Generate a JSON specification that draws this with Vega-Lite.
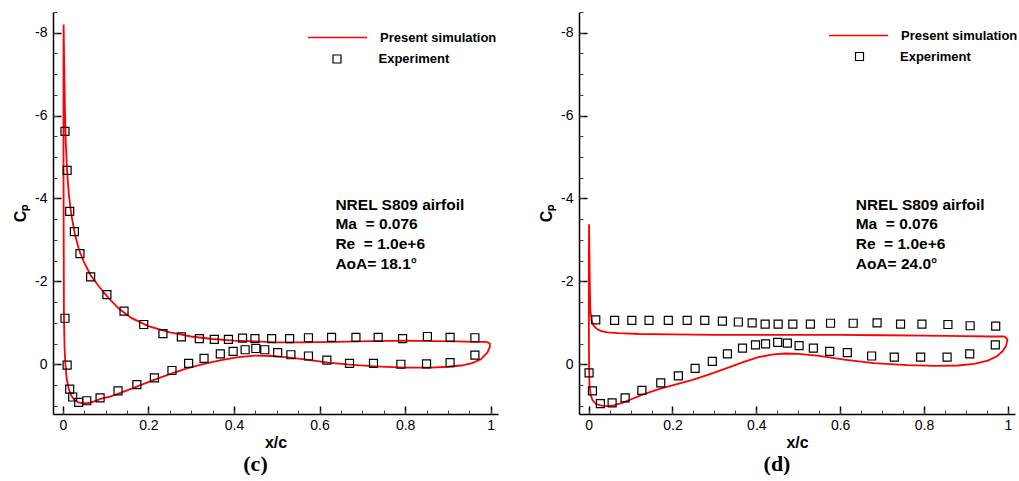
{
  "$schema": "https://vega.github.io/schema/vega-lite/v6.json",
  "background": "white",
  "padding": {"left": 12, "top": 5, "right": 0, "bottom": 0},
  "spacing": 40,
  "config": {
    "view": {"stroke": null},
    "font": "Liberation Sans",
    "axis": {"labelFont": "Liberation Sans", "titleFont": "Liberation Sans", "labelColor": "black", "titleColor": "black", "domainColor": "black", "tickColor": "black", "grid": false},
    "legend": {"labelFont": "Liberation Sans", "labelColor": "black", "labelFontWeight": "bold", "labelFontSize": 13, "title": null, "orient": "none", "padding": 0}
  },
  "resolve": {"scale": {"color": "independent", "shape": "independent"}, "legend": {"color": "independent", "shape": "independent"}},
  "datasets": {
    "simC": [
      {"i": 1, "x": 0.99, "cp": -0.54, "series": "Present simulation"},
      {"i": 2, "x": 0.96, "cp": -0.54, "series": "Present simulation"},
      {"i": 3, "x": 0.92, "cp": -0.55, "series": "Present simulation"},
      {"i": 4, "x": 0.86, "cp": -0.56, "series": "Present simulation"},
      {"i": 5, "x": 0.8, "cp": -0.57, "series": "Present simulation"},
      {"i": 6, "x": 0.72, "cp": -0.56, "series": "Present simulation"},
      {"i": 7, "x": 0.64, "cp": -0.54, "series": "Present simulation"},
      {"i": 8, "x": 0.56, "cp": -0.53, "series": "Present simulation"},
      {"i": 9, "x": 0.5, "cp": -0.53, "series": "Present simulation"},
      {"i": 10, "x": 0.45, "cp": -0.55, "series": "Present simulation"},
      {"i": 11, "x": 0.4, "cp": -0.57, "series": "Present simulation"},
      {"i": 12, "x": 0.35, "cp": -0.61, "series": "Present simulation"},
      {"i": 13, "x": 0.3, "cp": -0.67, "series": "Present simulation"},
      {"i": 14, "x": 0.25, "cp": -0.77, "series": "Present simulation"},
      {"i": 15, "x": 0.2, "cp": -0.92, "series": "Present simulation"},
      {"i": 16, "x": 0.16, "cp": -1.12, "series": "Present simulation"},
      {"i": 17, "x": 0.13, "cp": -1.35, "series": "Present simulation"},
      {"i": 18, "x": 0.105, "cp": -1.62, "series": "Present simulation"},
      {"i": 19, "x": 0.085, "cp": -1.87, "series": "Present simulation"},
      {"i": 20, "x": 0.065, "cp": -2.15, "series": "Present simulation"},
      {"i": 21, "x": 0.05, "cp": -2.45, "series": "Present simulation"},
      {"i": 22, "x": 0.038, "cp": -2.75, "series": "Present simulation"},
      {"i": 23, "x": 0.028, "cp": -3.15, "series": "Present simulation"},
      {"i": 24, "x": 0.02, "cp": -3.6, "series": "Present simulation"},
      {"i": 25, "x": 0.014, "cp": -4.1, "series": "Present simulation"},
      {"i": 26, "x": 0.01, "cp": -4.65, "series": "Present simulation"},
      {"i": 27, "x": 0.007, "cp": -5.3, "series": "Present simulation"},
      {"i": 28, "x": 0.005, "cp": -6.1, "series": "Present simulation"},
      {"i": 29, "x": 0.0035, "cp": -7.0, "series": "Present simulation"},
      {"i": 30, "x": 0.0025, "cp": -7.7, "series": "Present simulation"},
      {"i": 31, "x": 0.0018, "cp": -8.2, "series": "Present simulation"},
      {"i": 32, "x": 0.0015, "cp": -7.0, "series": "Present simulation"},
      {"i": 33, "x": 0.0015, "cp": -5.0, "series": "Present simulation"},
      {"i": 34, "x": 0.002, "cp": -3.0, "series": "Present simulation"},
      {"i": 35, "x": 0.0025, "cp": -1.2, "series": "Present simulation"},
      {"i": 36, "x": 0.004, "cp": -0.4, "series": "Present simulation"},
      {"i": 37, "x": 0.006, "cp": 0.0, "series": "Present simulation"},
      {"i": 38, "x": 0.009, "cp": 0.35, "series": "Present simulation"},
      {"i": 39, "x": 0.014, "cp": 0.6, "series": "Present simulation"},
      {"i": 40, "x": 0.02, "cp": 0.76, "series": "Present simulation"},
      {"i": 41, "x": 0.027, "cp": 0.86, "series": "Present simulation"},
      {"i": 42, "x": 0.036, "cp": 0.92, "series": "Present simulation"},
      {"i": 43, "x": 0.046, "cp": 0.94, "series": "Present simulation"},
      {"i": 44, "x": 0.058, "cp": 0.94, "series": "Present simulation"},
      {"i": 45, "x": 0.072, "cp": 0.9, "series": "Present simulation"},
      {"i": 46, "x": 0.09, "cp": 0.83, "series": "Present simulation"},
      {"i": 47, "x": 0.11, "cp": 0.78, "series": "Present simulation"},
      {"i": 48, "x": 0.13, "cp": 0.71, "series": "Present simulation"},
      {"i": 49, "x": 0.17, "cp": 0.55, "series": "Present simulation"},
      {"i": 50, "x": 0.21, "cp": 0.39, "series": "Present simulation"},
      {"i": 51, "x": 0.25, "cp": 0.24, "series": "Present simulation"},
      {"i": 52, "x": 0.29, "cp": 0.1, "series": "Present simulation"},
      {"i": 53, "x": 0.33, "cp": -0.01, "series": "Present simulation"},
      {"i": 54, "x": 0.37, "cp": -0.1, "series": "Present simulation"},
      {"i": 55, "x": 0.41, "cp": -0.17, "series": "Present simulation"},
      {"i": 56, "x": 0.45, "cp": -0.21, "series": "Present simulation"},
      {"i": 57, "x": 0.49, "cp": -0.2, "series": "Present simulation"},
      {"i": 58, "x": 0.53, "cp": -0.16, "series": "Present simulation"},
      {"i": 59, "x": 0.57, "cp": -0.11, "series": "Present simulation"},
      {"i": 60, "x": 0.62, "cp": -0.04, "series": "Present simulation"},
      {"i": 61, "x": 0.67, "cp": 0.01, "series": "Present simulation"},
      {"i": 62, "x": 0.73, "cp": 0.05, "series": "Present simulation"},
      {"i": 63, "x": 0.8, "cp": 0.08, "series": "Present simulation"},
      {"i": 64, "x": 0.86, "cp": 0.08, "series": "Present simulation"},
      {"i": 65, "x": 0.9, "cp": 0.06, "series": "Present simulation"},
      {"i": 66, "x": 0.93, "cp": 0.03, "series": "Present simulation"},
      {"i": 67, "x": 0.955, "cp": -0.02, "series": "Present simulation"},
      {"i": 68, "x": 0.977, "cp": -0.12, "series": "Present simulation"},
      {"i": 69, "x": 0.992, "cp": -0.28, "series": "Present simulation"},
      {"i": 70, "x": 0.998, "cp": -0.42, "series": "Present simulation"},
      {"i": 71, "x": 0.998, "cp": -0.5, "series": "Present simulation"},
      {"i": 72, "x": 0.99, "cp": -0.54, "series": "Present simulation"}
    ],
    "expC": [
      {"x": 0.005, "cp": -5.62, "series": "Experiment"},
      {"x": 0.01, "cp": -4.68, "series": "Experiment"},
      {"x": 0.016, "cp": -3.69, "series": "Experiment"},
      {"x": 0.027, "cp": -3.2, "series": "Experiment"},
      {"x": 0.04, "cp": -2.67, "series": "Experiment"},
      {"x": 0.065, "cp": -2.11, "series": "Experiment"},
      {"x": 0.103, "cp": -1.68, "series": "Experiment"},
      {"x": 0.143, "cp": -1.28, "series": "Experiment"},
      {"x": 0.189, "cp": -0.96, "series": "Experiment"},
      {"x": 0.234, "cp": -0.74, "series": "Experiment"},
      {"x": 0.277, "cp": -0.66, "series": "Experiment"},
      {"x": 0.319, "cp": -0.62, "series": "Experiment"},
      {"x": 0.354, "cp": -0.6, "series": "Experiment"},
      {"x": 0.387, "cp": -0.6, "series": "Experiment"},
      {"x": 0.42, "cp": -0.63, "series": "Experiment"},
      {"x": 0.449, "cp": -0.62, "series": "Experiment"},
      {"x": 0.488, "cp": -0.62, "series": "Experiment"},
      {"x": 0.53, "cp": -0.62, "series": "Experiment"},
      {"x": 0.574, "cp": -0.64, "series": "Experiment"},
      {"x": 0.628, "cp": -0.65, "series": "Experiment"},
      {"x": 0.685, "cp": -0.65, "series": "Experiment"},
      {"x": 0.737, "cp": -0.65, "series": "Experiment"},
      {"x": 0.794, "cp": -0.62, "series": "Experiment"},
      {"x": 0.852, "cp": -0.67, "series": "Experiment"},
      {"x": 0.905, "cp": -0.65, "series": "Experiment"},
      {"x": 0.963, "cp": -0.64, "series": "Experiment"},
      {"x": 0.005, "cp": -1.11, "series": "Experiment"},
      {"x": 0.01, "cp": 0.02, "series": "Experiment"},
      {"x": 0.016, "cp": 0.6, "series": "Experiment"},
      {"x": 0.023, "cp": 0.79, "series": "Experiment"},
      {"x": 0.037, "cp": 0.92, "series": "Experiment"},
      {"x": 0.056, "cp": 0.88, "series": "Experiment"},
      {"x": 0.087, "cp": 0.81, "series": "Experiment"},
      {"x": 0.129, "cp": 0.64, "series": "Experiment"},
      {"x": 0.173, "cp": 0.49, "series": "Experiment"},
      {"x": 0.214, "cp": 0.33, "series": "Experiment"},
      {"x": 0.255, "cp": 0.15, "series": "Experiment"},
      {"x": 0.294, "cp": -0.02, "series": "Experiment"},
      {"x": 0.33, "cp": -0.14, "series": "Experiment"},
      {"x": 0.368, "cp": -0.25, "series": "Experiment"},
      {"x": 0.398, "cp": -0.31, "series": "Experiment"},
      {"x": 0.426, "cp": -0.35, "series": "Experiment"},
      {"x": 0.451, "cp": -0.38, "series": "Experiment"},
      {"x": 0.472, "cp": -0.35, "series": "Experiment"},
      {"x": 0.502, "cp": -0.28, "series": "Experiment"},
      {"x": 0.533, "cp": -0.23, "series": "Experiment"},
      {"x": 0.574, "cp": -0.2, "series": "Experiment"},
      {"x": 0.617, "cp": -0.1, "series": "Experiment"},
      {"x": 0.67, "cp": -0.02, "series": "Experiment"},
      {"x": 0.726, "cp": -0.02, "series": "Experiment"},
      {"x": 0.79, "cp": 0.0, "series": "Experiment"},
      {"x": 0.85, "cp": -0.01, "series": "Experiment"},
      {"x": 0.905, "cp": -0.04, "series": "Experiment"},
      {"x": 0.963, "cp": -0.22, "series": "Experiment"}
    ],
    "simD": [
      {"i": 1, "x": 0.992, "cp": -0.67, "series": "Present simulation"},
      {"i": 2, "x": 0.96, "cp": -0.67, "series": "Present simulation"},
      {"i": 3, "x": 0.9, "cp": -0.68, "series": "Present simulation"},
      {"i": 4, "x": 0.8, "cp": -0.69, "series": "Present simulation"},
      {"i": 5, "x": 0.7, "cp": -0.7, "series": "Present simulation"},
      {"i": 6, "x": 0.6, "cp": -0.71, "series": "Present simulation"},
      {"i": 7, "x": 0.5, "cp": -0.71, "series": "Present simulation"},
      {"i": 8, "x": 0.4, "cp": -0.71, "series": "Present simulation"},
      {"i": 9, "x": 0.3, "cp": -0.71, "series": "Present simulation"},
      {"i": 10, "x": 0.2, "cp": -0.72, "series": "Present simulation"},
      {"i": 11, "x": 0.12, "cp": -0.73, "series": "Present simulation"},
      {"i": 12, "x": 0.07, "cp": -0.75, "series": "Present simulation"},
      {"i": 13, "x": 0.045, "cp": -0.77, "series": "Present simulation"},
      {"i": 14, "x": 0.03, "cp": -0.8, "series": "Present simulation"},
      {"i": 15, "x": 0.02, "cp": -0.85, "series": "Present simulation"},
      {"i": 16, "x": 0.012, "cp": -0.93, "series": "Present simulation"},
      {"i": 17, "x": 0.007, "cp": -1.05, "series": "Present simulation"},
      {"i": 18, "x": 0.004, "cp": -1.3, "series": "Present simulation"},
      {"i": 19, "x": 0.003, "cp": -1.8, "series": "Present simulation"},
      {"i": 20, "x": 0.002, "cp": -2.6, "series": "Present simulation"},
      {"i": 21, "x": 0.001, "cp": -3.38, "series": "Present simulation"},
      {"i": 22, "x": 0.0005, "cp": -2.5, "series": "Present simulation"},
      {"i": 23, "x": 0.0005, "cp": -1.0, "series": "Present simulation"},
      {"i": 24, "x": 0.001, "cp": 0.0, "series": "Present simulation"},
      {"i": 25, "x": 0.002, "cp": 0.5, "series": "Present simulation"},
      {"i": 26, "x": 0.005, "cp": 0.75, "series": "Present simulation"},
      {"i": 27, "x": 0.01, "cp": 0.88, "series": "Present simulation"},
      {"i": 28, "x": 0.018, "cp": 0.96, "series": "Present simulation"},
      {"i": 29, "x": 0.03, "cp": 1.0, "series": "Present simulation"},
      {"i": 30, "x": 0.045, "cp": 1.01, "series": "Present simulation"},
      {"i": 31, "x": 0.06, "cp": 0.99, "series": "Present simulation"},
      {"i": 32, "x": 0.08, "cp": 0.93, "series": "Present simulation"},
      {"i": 33, "x": 0.1, "cp": 0.85, "series": "Present simulation"},
      {"i": 34, "x": 0.127, "cp": 0.74, "series": "Present simulation"},
      {"i": 35, "x": 0.167, "cp": 0.6, "series": "Present simulation"},
      {"i": 36, "x": 0.206, "cp": 0.49, "series": "Present simulation"},
      {"i": 37, "x": 0.246, "cp": 0.38, "series": "Present simulation"},
      {"i": 38, "x": 0.286, "cp": 0.25, "series": "Present simulation"},
      {"i": 39, "x": 0.325, "cp": 0.11, "series": "Present simulation"},
      {"i": 40, "x": 0.365, "cp": -0.04, "series": "Present simulation"},
      {"i": 41, "x": 0.405, "cp": -0.17, "series": "Present simulation"},
      {"i": 42, "x": 0.44, "cp": -0.24, "series": "Present simulation"},
      {"i": 43, "x": 0.47, "cp": -0.26, "series": "Present simulation"},
      {"i": 44, "x": 0.5, "cp": -0.25, "series": "Present simulation"},
      {"i": 45, "x": 0.55, "cp": -0.2, "series": "Present simulation"},
      {"i": 46, "x": 0.61, "cp": -0.11, "series": "Present simulation"},
      {"i": 47, "x": 0.68, "cp": -0.03, "series": "Present simulation"},
      {"i": 48, "x": 0.76, "cp": 0.02, "series": "Present simulation"},
      {"i": 49, "x": 0.83, "cp": 0.04, "series": "Present simulation"},
      {"i": 50, "x": 0.88, "cp": 0.03, "series": "Present simulation"},
      {"i": 51, "x": 0.92, "cp": -0.01, "series": "Present simulation"},
      {"i": 52, "x": 0.952, "cp": -0.09, "series": "Present simulation"},
      {"i": 53, "x": 0.975, "cp": -0.2, "series": "Present simulation"},
      {"i": 54, "x": 0.988, "cp": -0.32, "series": "Present simulation"},
      {"i": 55, "x": 0.996, "cp": -0.45, "series": "Present simulation"},
      {"i": 56, "x": 0.999, "cp": -0.6, "series": "Present simulation"},
      {"i": 57, "x": 0.992, "cp": -0.67, "series": "Present simulation"}
    ],
    "expD": [
      {"x": 0.017, "cp": -1.07, "series": "Experiment"},
      {"x": 0.062, "cp": -1.06, "series": "Experiment"},
      {"x": 0.103, "cp": -1.06, "series": "Experiment"},
      {"x": 0.144, "cp": -1.06, "series": "Experiment"},
      {"x": 0.19, "cp": -1.06, "series": "Experiment"},
      {"x": 0.235, "cp": -1.06, "series": "Experiment"},
      {"x": 0.277, "cp": -1.06, "series": "Experiment"},
      {"x": 0.319, "cp": -1.04, "series": "Experiment"},
      {"x": 0.357, "cp": -1.02, "series": "Experiment"},
      {"x": 0.39, "cp": -1.0, "series": "Experiment"},
      {"x": 0.421, "cp": -0.97, "series": "Experiment"},
      {"x": 0.452, "cp": -0.97, "series": "Experiment"},
      {"x": 0.487, "cp": -0.97, "series": "Experiment"},
      {"x": 0.529, "cp": -0.97, "series": "Experiment"},
      {"x": 0.577, "cp": -0.99, "series": "Experiment"},
      {"x": 0.631, "cp": -0.99, "series": "Experiment"},
      {"x": 0.688, "cp": -1.0, "series": "Experiment"},
      {"x": 0.744, "cp": -0.97, "series": "Experiment"},
      {"x": 0.795, "cp": -0.97, "series": "Experiment"},
      {"x": 0.857, "cp": -0.96, "series": "Experiment"},
      {"x": 0.91, "cp": -0.93, "series": "Experiment"},
      {"x": 0.971, "cp": -0.92, "series": "Experiment"},
      {"x": 0.001, "cp": 0.21, "series": "Experiment"},
      {"x": 0.009, "cp": 0.64, "series": "Experiment"},
      {"x": 0.028, "cp": 0.95, "series": "Experiment"},
      {"x": 0.056, "cp": 0.93, "series": "Experiment"},
      {"x": 0.087, "cp": 0.81, "series": "Experiment"},
      {"x": 0.127, "cp": 0.63, "series": "Experiment"},
      {"x": 0.172, "cp": 0.45, "series": "Experiment"},
      {"x": 0.214, "cp": 0.28, "series": "Experiment"},
      {"x": 0.254, "cp": 0.1, "series": "Experiment"},
      {"x": 0.295, "cp": -0.07, "series": "Experiment"},
      {"x": 0.331, "cp": -0.25, "series": "Experiment"},
      {"x": 0.367, "cp": -0.39, "series": "Experiment"},
      {"x": 0.398, "cp": -0.47, "series": "Experiment"},
      {"x": 0.422, "cp": -0.49, "series": "Experiment"},
      {"x": 0.451, "cp": -0.53, "series": "Experiment"},
      {"x": 0.474, "cp": -0.51, "series": "Experiment"},
      {"x": 0.502, "cp": -0.45, "series": "Experiment"},
      {"x": 0.536, "cp": -0.39, "series": "Experiment"},
      {"x": 0.575, "cp": -0.31, "series": "Experiment"},
      {"x": 0.617, "cp": -0.28, "series": "Experiment"},
      {"x": 0.675, "cp": -0.2, "series": "Experiment"},
      {"x": 0.729, "cp": -0.17, "series": "Experiment"},
      {"x": 0.792, "cp": -0.17, "series": "Experiment"},
      {"x": 0.855, "cp": -0.17, "series": "Experiment"},
      {"x": 0.909, "cp": -0.25, "series": "Experiment"},
      {"x": 0.97, "cp": -0.47, "series": "Experiment"}
    ],
    "annC": [
      {"label": "NREL S809 airfoil", "x": 0.637, "cp": -3.85},
      {"label": "Ma\u00a0 = 0.076", "x": 0.637, "cp": -3.38},
      {"label": "Re\u00a0 = 1.0e+6", "x": 0.637, "cp": -2.9},
      {"label": "AoA= 18.1°", "x": 0.637, "cp": -2.43}
    ],
    "annD": [
      {"label": "NREL S809 airfoil", "x": 0.637, "cp": -3.85},
      {"label": "Ma\u00a0 = 0.076", "x": 0.637, "cp": -3.38},
      {"label": "Re\u00a0 = 1.0e+6", "x": 0.637, "cp": -2.9},
      {"label": "AoA= 24.0°", "x": 0.637, "cp": -2.43}
    ]
  },
  "hconcat": [
    {
      "width": 445,
      "height": 402,
      "title": {"text": "(c)", "orient": "bottom", "anchor": "middle", "font": "Liberation Serif", "fontSize": 22, "fontWeight": "bold", "color": "black", "dx": -20, "offset": 4},
      "resolve": {"axis": {"x": "independent", "y": "independent"}},
      "layer": [
        {
          "data": {"name": "simC"},
          "mark": {"type": "line", "strokeWidth": 1.8},
          "encoding": {
            "x": {"field": "x", "type": "quantitative", "scale": {"domain": [-0.023, 1.017], "nice": false, "zero": false},
              "axis": {"orient": "bottom", "values": [0, 0.2, 0.4, 0.6, 0.8, 1], "labelExpr": "'' + datum.value", "tickSize": -8, "tickWidth": 1.5, "domainWidth": 1.5, "labelPadding": 12, "labelFontSize": 14, "labelFlush": false, "labelOverlap": false, "title": "x/c", "titleFontSize": 16, "titleFontWeight": "bold", "titlePadding": 2}},
            "y": {"field": "cp", "type": "quantitative", "scale": {"domain": [-8.5, 1.2], "reverse": true, "nice": false, "zero": false},
              "axis": {"orient": "left", "values": [-8, -6, -4, -2, 0], "labelExpr": "'' + datum.value", "tickSize": -8, "tickWidth": 1.5, "domainWidth": 1.5, "labelPadding": 14, "labelFontSize": 14, "labelFlush": false, "labelOverlap": false, "title": "Cₚ", "titleFontSize": 16, "titleFontWeight": "bold", "titlePadding": 6}},
            "order": {"field": "i", "type": "quantitative"},
            "color": {"field": "series", "type": "nominal", "scale": {"range": ["#ff0000"]},
              "legend": {"legendX": 254, "legendY": -5, "symbolType": "stroke", "symbolSize": 3481, "symbolStrokeWidth": 1.5, "labelOffset": 12}}
          }
        },
        {
          "data": {"name": "expC"},
          "mark": {"type": "point", "filled": false, "size": 64, "strokeWidth": 1.2, "color": "black", "opacity": 1},
          "encoding": {
            "x": {"field": "x", "type": "quantitative", "scale": {"domain": [-0.023, 1.017], "nice": false, "zero": false},
              "axis": {"orient": "bottom", "values": [0, 0.05, 0.1, 0.15, 0.2, 0.25, 0.3, 0.35, 0.4, 0.45, 0.5, 0.55, 0.6, 0.65, 0.7, 0.75, 0.8, 0.85, 0.9, 0.95, 1], "labels": false, "domain": false, "tickSize": -4, "tickWidth": 1, "tickColor": "#444", "title": null}},
            "y": {"field": "cp", "type": "quantitative", "scale": {"domain": [-8.5, 1.2], "reverse": true, "nice": false, "zero": false},
              "axis": {"orient": "left", "values": [-8.5, -8, -7.5, -7, -6.5, -6, -5.5, -5, -4.5, -4, -3.5, -3, -2.5, -2, -1.5, -1, -0.5, 0, 0.5, 1], "labels": false, "domain": false, "tickSize": -4, "tickWidth": 1, "tickColor": "#444", "title": null}},
            "shape": {"field": "series", "type": "nominal", "scale": {"range": ["square"]},
              "legend": {"legendX": 277.5, "legendY": 40.5, "symbolType": "square", "symbolSize": 64, "symbolStrokeWidth": 1.2, "symbolStrokeColor": "black", "symbolFillColor": "transparent", "labelOffset": 35}}
          }
        },
        {
          "data": {"name": "annC"},
          "mark": {"type": "text", "align": "left", "baseline": "middle", "font": "Liberation Sans", "fontSize": 15.5, "fontWeight": "bold", "color": "black"},
          "encoding": {
            "x": {"field": "x", "type": "quantitative", "axis": null},
            "y": {"field": "cp", "type": "quantitative", "axis": null},
            "text": {"field": "label"}
          }
        }
      ]
    },
    {
      "width": 436,
      "height": 402,
      "title": {"text": "(d)", "orient": "bottom", "anchor": "middle", "font": "Liberation Serif", "fontSize": 22, "fontWeight": "bold", "color": "black", "dx": -20, "offset": 4},
      "resolve": {"axis": {"x": "independent", "y": "independent"}},
      "layer": [
        {
          "data": {"name": "simD"},
          "mark": {"type": "line", "strokeWidth": 1.8},
          "encoding": {
            "x": {"field": "x", "type": "quantitative", "scale": {"domain": [-0.023, 1.017], "nice": false, "zero": false},
              "axis": {"orient": "bottom", "values": [0, 0.2, 0.4, 0.6, 0.8, 1], "labelExpr": "'' + datum.value", "tickSize": -8, "tickWidth": 1.5, "domainWidth": 1.5, "labelPadding": 12, "labelFontSize": 14, "labelFlush": false, "labelOverlap": false, "title": "x/c", "titleFontSize": 16, "titleFontWeight": "bold", "titlePadding": 2}},
            "y": {"field": "cp", "type": "quantitative", "scale": {"domain": [-8.5, 1.2], "reverse": true, "nice": false, "zero": false},
              "axis": {"orient": "left", "values": [-8, -6, -4, -2, 0], "labelExpr": "'' + datum.value", "tickSize": -8, "tickWidth": 1.5, "domainWidth": 1.5, "labelPadding": 14, "labelFontSize": 14, "labelFlush": false, "labelOverlap": false, "title": "Cₚ", "titleFontSize": 16, "titleFontWeight": "bold", "titlePadding": 6}},
            "order": {"field": "i", "type": "quantitative"},
            "color": {"field": "series", "type": "nominal", "scale": {"range": ["#ff0000"]},
              "legend": {"legendX": 249, "legendY": -7, "symbolType": "stroke", "symbolSize": 3481, "symbolStrokeWidth": 1.5, "labelOffset": 12}}
          }
        },
        {
          "data": {"name": "expD"},
          "mark": {"type": "point", "filled": false, "size": 64, "strokeWidth": 1.2, "color": "black", "opacity": 1},
          "encoding": {
            "x": {"field": "x", "type": "quantitative", "scale": {"domain": [-0.023, 1.017], "nice": false, "zero": false},
              "axis": {"orient": "bottom", "values": [0, 0.05, 0.1, 0.15, 0.2, 0.25, 0.3, 0.35, 0.4, 0.45, 0.5, 0.55, 0.6, 0.65, 0.7, 0.75, 0.8, 0.85, 0.9, 0.95, 1], "labels": false, "domain": false, "tickSize": -4, "tickWidth": 1, "tickColor": "#444", "title": null}},
            "y": {"field": "cp", "type": "quantitative", "scale": {"domain": [-8.5, 1.2], "reverse": true, "nice": false, "zero": false},
              "axis": {"orient": "left", "values": [-8.5, -8, -7.5, -7, -6.5, -6, -5.5, -5, -4.5, -4, -3.5, -3, -2.5, -2, -1.5, -1, -0.5, 0, 0.5, 1], "labels": false, "domain": false, "tickSize": -4, "tickWidth": 1, "tickColor": "#444", "title": null}},
            "shape": {"field": "series", "type": "nominal", "scale": {"range": ["square"]},
              "legend": {"legendX": 274, "legendY": 38, "symbolType": "square", "symbolSize": 64, "symbolStrokeWidth": 1.2, "symbolStrokeColor": "black", "symbolFillColor": "transparent", "labelOffset": 34}}
          }
        },
        {
          "data": {"name": "annD"},
          "mark": {"type": "text", "align": "left", "baseline": "middle", "font": "Liberation Sans", "fontSize": 15.5, "fontWeight": "bold", "color": "black"},
          "encoding": {
            "x": {"field": "x", "type": "quantitative", "axis": null},
            "y": {"field": "cp", "type": "quantitative", "axis": null},
            "text": {"field": "label"}
          }
        }
      ]
    }
  ]
}
